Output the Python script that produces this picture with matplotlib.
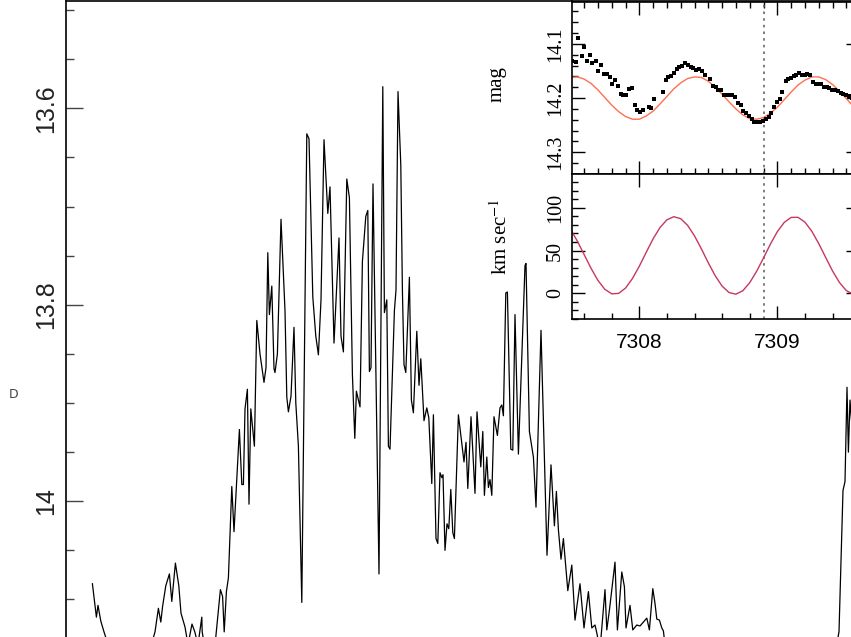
import numpy as np
import matplotlib
matplotlib.use("Agg")
import matplotlib.pyplot as plt
from matplotlib.ticker import MultipleLocator, FixedLocator, FixedFormatter

plt.rcParams['mathtext.fontset'] = 'stix'

# main light curve (time in days from an arbitrary zero, magnitude)
main_t = [1.32, 1.52, 1.60, 1.74, 1.90, 2.20, 2.95, 3.70, 4.20, 4.45,
          4.62, 4.74, 4.83, 4.99, 5.17, 5.29, 5.47, 5.64, 5.75, 5.95,
          6.10, 6.30, 6.44, 6.60, 6.79, 6.81, 7.05, 7.40, 7.72, 7.83,
          7.91, 8.02, 8.12, 8.29, 8.40, 8.67, 8.79, 8.87, 8.95, 9.07,
          9.15, 9.24, 9.42, 9.54, 9.70, 9.90, 10.00, 10.09, 10.17, 10.29,
          10.40, 10.45, 10.57, 10.75, 10.95, 11.04, 11.12, 11.25, 11.40, 11.49,
          11.62, 11.79, 12.04, 12.15, 12.34, 12.49, 12.62, 12.75, 12.90, 13.09,
          13.20, 13.40, 13.65, 13.75, 13.87, 14.04, 14.17, 14.32, 14.44, 14.52,
          14.70, 14.82, 14.99, 15.09, 15.17, 15.25, 15.35, 15.65, 15.84, 15.92,
          16.04, 16.12, 16.20, 16.42, 16.50, 16.60, 16.74, 16.82, 16.90, 16.99,
          17.17, 17.27, 17.37, 17.54, 17.65, 17.74, 17.90, 18.04, 18.14, 18.29,
          18.37, 18.50, 18.59, 18.70, 18.79, 18.85, 18.95, 19.05, 19.14, 19.24,
          19.34, 19.42, 19.62, 19.90, 20.00, 20.09, 20.25, 20.45, 20.55, 20.74,
          20.84, 20.92, 21.04, 21.12, 21.20, 21.29, 21.40, 21.57, 21.70, 21.79,
          21.87, 21.99, 22.07, 22.24, 22.34, 22.45, 22.62, 22.95, 23.00, 23.17,
          23.37, 23.50, 23.75, 24.05, 24.25, 24.42, 24.52, 24.62, 24.75, 24.87,
          25.09, 25.29, 25.45, 25.70, 25.90, 26.12, 26.29, 26.45, 26.54, 26.70,
          26.95, 27.04, 27.17, 27.45, 27.57, 27.79, 27.92, 28.00, 28.20, 28.34,
          28.54, 28.70, 29.04, 29.17, 29.34, 29.45, 29.54, 29.67, 29.79, 29.87,
          29.95, 30.70, 32.70, 34.70, 36.70, 38.20, 38.65, 38.85, 38.95, 39.05,
          39.12, 39.20, 39.35]
main_mag = [14.084, 14.118, 14.106, 14.122, 14.133, 14.152, 14.192, 14.182, 14.151, 14.133,
            14.109, 14.123, 14.107, 14.086, 14.074, 14.102, 14.063, 14.086, 14.114, 14.128,
            14.146, 14.125, 14.133, 14.146, 14.118, 14.133, 14.162, 14.157, 14.090, 14.097,
            14.133, 14.092, 14.078, 13.985, 14.031, 13.927, 13.983, 13.983, 13.906, 13.886,
            14.003, 13.906, 13.944, 13.816, 13.850, 13.879, 13.864, 13.747, 13.810, 13.781,
            13.865, 13.869, 13.850, 13.713, 13.806, 13.894, 13.909, 13.893, 13.823, 13.900,
            13.944, 14.103, 13.626, 13.631, 13.792, 13.832, 13.851, 13.795, 13.632, 13.707,
            13.680, 13.839, 13.732, 13.832, 13.848, 13.672, 13.691, 13.871, 13.936, 13.888,
            13.904, 13.756, 13.710, 13.704, 13.868, 13.864, 13.677, 14.074, 13.578, 13.808,
            13.795, 13.944, 13.947, 13.806, 13.785, 13.583, 13.658, 13.785, 13.861, 13.869,
            13.772, 13.897, 13.910, 13.827, 13.882, 13.855, 13.918, 13.905, 13.915, 13.982,
            13.912, 14.038, 14.043, 13.971, 13.976, 13.973, 14.050, 14.023, 14.028, 13.988,
            14.032, 14.038, 13.912, 13.960, 13.940, 13.987, 13.914, 13.992, 13.909, 13.965,
            13.929, 13.994, 13.955, 13.986, 13.978, 13.994, 13.914, 13.933, 13.905, 13.902,
            13.913, 13.788, 13.787, 13.947, 13.948, 13.810, 13.952, 13.760, 13.758, 13.929,
            13.955, 14.006, 13.826, 14.055, 13.963, 14.025, 13.990, 14.029, 14.059, 14.038,
            14.091, 14.065, 14.121, 14.084, 14.129, 14.092, 14.129, 14.126, 14.134, 14.151,
            14.090, 14.131, 14.111, 14.062, 14.131, 14.072, 14.087, 14.129, 14.106, 14.131,
            14.126, 14.127, 14.119, 14.131, 14.089, 14.104, 14.120, 14.121, 14.129, 14.132,
            14.146, 14.182, 14.202, 14.192, 14.202, 14.182, 14.133, 13.989, 13.980, 13.884,
            13.950, 13.897, 13.938]
main_yticks = [13.6, 13.8, 14.0]
main_ylabels = ['13.6', '13.8', '14']

# inset: photometry points (HJD - 2450000, mag)
dot_t = [7307.515, 7307.539, 7307.558, 7307.582, 7307.599, 7307.623, 7307.643, 7307.660, 7307.684, 7307.703,
         7307.720, 7307.744, 7307.764, 7307.785, 7307.805, 7307.824, 7307.846, 7307.865, 7307.884, 7307.906,
         7307.925, 7307.947, 7307.966, 7307.986, 7308.007, 7308.027, 7308.068, 7308.087, 7308.109, 7308.172,
         7308.191, 7308.210, 7308.230, 7308.251, 7308.271, 7308.290, 7308.309, 7308.331, 7308.350, 7308.372,
         7308.392, 7308.413, 7308.433, 7308.454, 7308.474, 7308.515, 7308.534, 7308.553, 7308.573, 7308.594,
         7308.614, 7308.633, 7308.655, 7308.674, 7308.696, 7308.715, 7308.735, 7308.754, 7308.776, 7308.795,
         7308.814, 7308.834, 7308.855, 7308.875, 7308.896, 7308.916, 7308.937, 7308.957, 7308.976, 7308.998,
         7309.017, 7309.037, 7309.061, 7309.078, 7309.097, 7309.119, 7309.138, 7309.160, 7309.179, 7309.198,
         7309.218, 7309.237, 7309.259, 7309.278, 7309.297, 7309.319, 7309.338, 7309.358, 7309.377, 7309.399,
         7309.418, 7309.437, 7309.459, 7309.479, 7309.498, 7309.520, 7309.540, 7309.560]
dot_mag = [14.132, 14.134, 14.089, 14.122, 14.106, 14.131, 14.121, 14.135, 14.132, 14.150,
           14.139, 14.156, 14.155, 14.162, 14.174, 14.166, 14.177, 14.192, 14.195, 14.195,
           14.183, 14.182, 14.213, 14.222, 14.226, 14.222, 14.217, 14.218, 14.202, 14.188,
           14.167, 14.162, 14.160, 14.153, 14.147, 14.143, 14.140, 14.136, 14.139, 14.143,
           14.145, 14.149, 14.146, 14.151, 14.158, 14.164, 14.177, 14.179, 14.185, 14.185,
           14.194, 14.195, 14.194, 14.195, 14.198, 14.209, 14.213, 14.223, 14.227, 14.233,
           14.238, 14.244, 14.244, 14.244, 14.242, 14.238, 14.235, 14.228, 14.217, 14.207,
           14.201, 14.188, 14.169, 14.165, 14.163, 14.160, 14.157, 14.153, 14.157, 14.157,
           14.155, 14.158, 14.171, 14.174, 14.175, 14.175, 14.179, 14.180, 14.182, 14.185,
           14.185, 14.187, 14.190, 14.192, 14.194, 14.197, 14.199, 14.201]

# model curves
model_t = [7307.50, 7307.55, 7307.60, 7307.65, 7307.70, 7307.75, 7307.80, 7307.85, 7307.90, 7307.95,
           7308.00, 7308.05, 7308.10, 7308.15, 7308.20, 7308.25, 7308.30, 7308.35, 7308.40, 7308.45,
           7308.50, 7308.55, 7308.60, 7308.65, 7308.70, 7308.75, 7308.80, 7308.85, 7308.90, 7308.95,
           7309.00, 7309.05, 7309.10, 7309.15, 7309.20, 7309.25, 7309.30, 7309.35, 7309.40, 7309.45,
           7309.50, 7309.55, 7309.60]
model_mag = [14.162, 14.161, 14.165, 14.173, 14.185, 14.199, 14.213, 14.225, 14.234, 14.239,
             14.239, 14.233, 14.224, 14.211, 14.197, 14.183, 14.172, 14.164, 14.161, 14.162,
             14.169, 14.180, 14.193, 14.207, 14.220, 14.231, 14.238, 14.239, 14.236, 14.228,
             14.217, 14.203, 14.189, 14.176, 14.167, 14.161, 14.161, 14.166, 14.175, 14.187,
             14.201, 14.215, 14.227]
model_vel = [75.0, 61.3, 45.3, 29.3, 15.1, 4.7, -0.6, -0.1, 6.1, 17.2,
             31.7, 47.9, 63.7, 76.9, 85.9, 89.5, 87.2, 79.4, 67.1, 51.9,
             35.6, 20.5, 8.4, 0.9, -1.0, 3.0, 12.4, 25.7, 41.3, 57.5,
             72.0, 82.8, 88.7, 88.8, 83.2, 72.5, 58.2, 42.1, 26.2, 12.7,
             3.2, -1.0, 0.6]
t_mark = 7308.904
inset_xticks = [7308, 7309]
mag_ticks = [14.1, 14.2, 14.3]
vel_ticks = [0, 50, 100]

W, H = 851, 637


def px_rect(l, t, r, b):
    # pixel box -> figure fraction
    return [l / W, 1 - b / H, (r - l) / W, (b - t) / H]


fig = plt.figure(figsize=(W / 100, H / 100), dpi=100)

# main panel (extends past the right and bottom edges)
ax = fig.add_axes(px_rect(66, 1, 866, 765))
ax.plot(main_t, main_mag, color='black', lw=0.9)
ax.set_xlim(0, 40)
ax.set_ylim(14.2685, 13.4908)
ax.yaxis.set_major_locator(FixedLocator(main_yticks))
ax.yaxis.set_major_formatter(FixedFormatter(main_ylabels))
ax.yaxis.set_minor_locator(MultipleLocator(0.05))
ax.set_xticks([])
ax.tick_params(axis='y', which='major', direction='in', length=12.5, width=1.0,
               color='#444', pad=6, labelsize=18, labelrotation=90,
               labelcolor='#222', labelfontfamily='Liberation Sans')
ax.tick_params(axis='y', which='minor', direction='in', length=6, width=1.0, color='#444')
for lbl in ax.get_yticklabels():
    lbl.set_va('center')
for s in ax.spines.values():
    s.set_linewidth(1.2)

# clipped fragment of the main axis label
fig.text(14 / W, 1 - 395 / H, 'D', fontsize=9, ha='center', va='center', color='#444')

# inset: magnitude panel (top) and velocity panel (bottom)
a1 = fig.add_axes(px_rect(571.7, 1.5, 859, 174))
a2 = fig.add_axes(px_rect(571.7, 174, 859, 319))
for a in (a1, a2):
    a.set_facecolor('white')
    a.set_xlim(7307.510, 7309.592)
    a.xaxis.set_major_locator(FixedLocator(inset_xticks))
    a.axvline(t_mark, color='#666', lw=1.2, ls=(0, (1.5, 2.5)))
    a.tick_params(which='both', direction='in', top=True, right=True, width=1.0)
    a.tick_params(which='major', length=9.5)
    a.tick_params(which='minor', length=4.5)
    for s in a.spines.values():
        s.set_linewidth(1.2)

a1.plot(model_t, model_mag, color='#ff6f4f', lw=1.0)
a1.plot(dot_t, dot_mag, 's', color='black', ms=2.5, mew=0)
a1.set_ylim(14.34, 14.022)
a1.yaxis.set_major_locator(FixedLocator(mag_ticks))
a1.yaxis.set_minor_locator(MultipleLocator(0.02))
a1.xaxis.set_minor_locator(MultipleLocator(0.1))
a1.tick_params(axis='x', labelbottom=False)
a1.tick_params(axis='y', labelsize=14.5, labelrotation=90, pad=5,
               labelfontfamily='Liberation Serif')

a2.plot(model_t, model_vel, color='#c8375e', lw=1.0)
a2.set_ylim(-30, 139.4)
a2.yaxis.set_major_locator(FixedLocator(vel_ticks))
a2.yaxis.set_minor_locator(MultipleLocator(10))
a2.xaxis.set_minor_locator(MultipleLocator(0.2))
a2.tick_params(axis='x', which='minor', top=False)
a2.tick_params(axis='x', labelsize=15, pad=10, labelfontfamily='Liberation Sans')
a2.tick_params(axis='y', labelsize=14.5, labelrotation=90, pad=5,
               labelfontfamily='Liberation Serif')

for a in (a1, a2):
    for lbl in a.get_yticklabels():
        lbl.set_va('center')

fig.text(497 / W, 1 - 84 / H, 'mag', rotation=90, ha='center', va='center',
         fontsize=15, family='Liberation Serif')
fig.text(501 / W, 1 - 237 / H, r'km sec$^{-1}$', rotation=90, ha='center', va='center',
         fontsize=15, family='Liberation Serif')

fig.savefig('out.png', dpi=100)
